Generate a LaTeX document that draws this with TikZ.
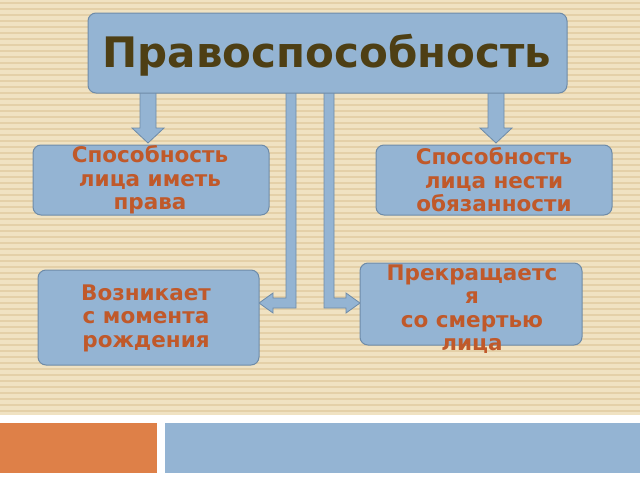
\documentclass[tikz,border=0pt]{standalone}
\usepackage{fontspec}
\setmainfont{DejaVu Sans}
\usetikzlibrary{positioning}
\definecolor{boxblue}{HTML}{94B4D3}
\definecolor{boxline}{HTML}{6E8BA8}
\definecolor{titlebrown}{HTML}{4E3F14}
\definecolor{textorange}{HTML}{C0592A}
\definecolor{paper}{HTML}{F0E2C2}
\definecolor{paperline}{HTML}{E4D0A8}
\definecolor{barorange}{HTML}{DE8048}
\begin{document}
\begin{tikzpicture}[x=1pt,y=-1pt,
  box/.style={draw=boxline,fill=boxblue,rounded corners=8pt,line width=1pt,align=center},
  label/.style={font=\bfseries\fontsize{21.5}{23.5}\selectfont,text=textorange,align=center},
  arrowshape/.style={draw=boxline,fill=boxblue,line width=0.8pt}]
\useasboundingbox (0,0) rectangle (640,480);
\fill[white] (0,0) rectangle (640,480);
\fill[paper] (0,0) rectangle (640,415);
\foreach \y in {3,9,...,415} \draw[paperline,line width=1.2pt] (0,\y) -- (640,\y);
\fill[barorange] (0,423) rectangle (157,473);
\fill[boxblue] (165,423) rectangle (640,473);

% arrows
\draw[arrowshape] (140,90) -- (140,128) -- (132,128) -- (148,143) -- (164,128) -- (156,128) -- (156,90);
\draw[arrowshape] (488,90) -- (488,128) -- (480,128) -- (496,143) -- (512,128) -- (504,128) -- (504,90);
\draw[arrowshape] (296,90) -- (296,308) -- (273,308) -- (273,313) -- (259,303) -- (273,293) -- (273,298) -- (286,298) -- (286,90);
\draw[arrowshape] (324,90) -- (324,308) -- (346,308) -- (346,313) -- (360,303) -- (346,293) -- (346,298) -- (334,298) -- (334,90);

% boxes
\draw[box] (88,13) rectangle (567,93);
\node (title) at (327,55) {\bfseries\fontsize{42}{48}\selectfont\textcolor{titlebrown}{Правоспособность}};
\draw[box] (33,145) rectangle (269,215);
\node[label] (rights) at (150,180) {Способность\\лица иметь\\права};
\draw[box] (376,145) rectangle (612,215);
\node[label] (duties) at (494,180) {Способность\\лица нести\\обязанности};
\draw[box] (38,270) rectangle (259,365);
\node[label] (birth) at (146,318) {Возникает\\с момента\\рождения};
\draw[box] (360,263) rectangle (582,345);
\node[label] (death) at (472,309) {Прекращаетс\\я\\со смертью\\лица};
\end{tikzpicture}
\end{document}
